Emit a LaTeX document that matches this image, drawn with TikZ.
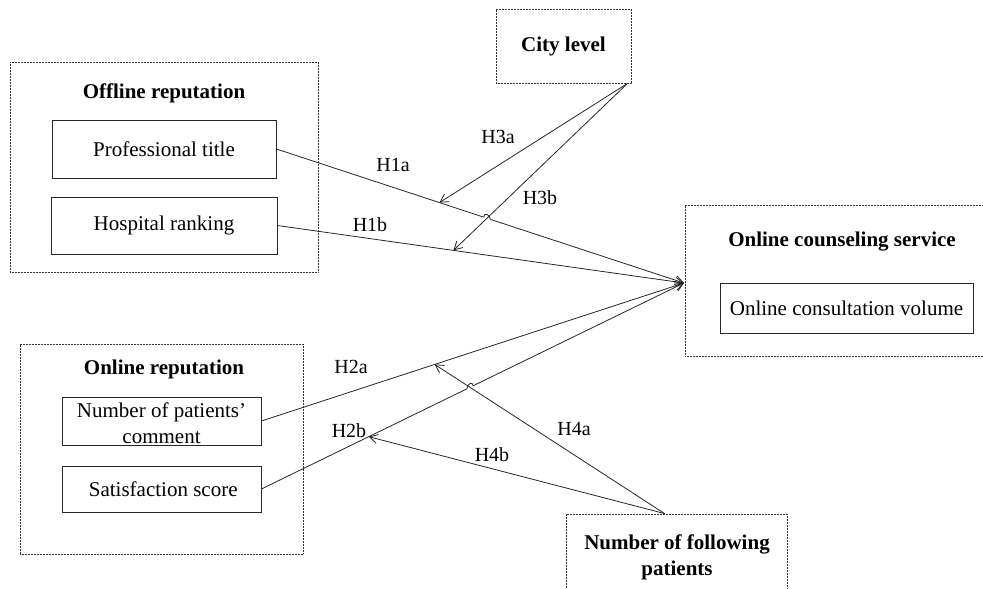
\documentclass[tikz,border=0pt]{standalone}
\usepackage{fontspec}
\setmainfont{Liberation Serif}
\usetikzlibrary{arrows.meta,calc,intersections}
\begin{document}
\begin{tikzpicture}[x=1pt,y=-1pt,
  dotbox/.style={draw=black!80, line width=0.9pt, dash pattern=on 0.9pt off 0.6pt, inner sep=0pt},
  solidbox/.style={draw=black!85, line width=0.8pt, inner sep=0pt},
  txt/.style={font=\fontsize{21}{26}\selectfont, align=center, inner sep=0pt},
  btxt/.style={font=\fontsize{21}{26}\selectfont\bfseries, align=center, inner sep=0pt},
  lab/.style={font=\fontsize{20}{24}\selectfont, inner sep=0pt},
  conn/.style={draw=black!85, line width=0.8pt},
  arr/.style={conn, -{Straight Barb[length=8pt,width=9pt,line width=0.8pt]}}
]
\useasboundingbox (0,0) rectangle (983,589);

% Offline reputation group
\node[dotbox, minimum width=308pt, minimum height=210pt] (off) at (164,167) {};
\node[btxt] (offt) at (164,93) {Offline reputation};
\node[solidbox, minimum width=224pt, minimum height=58pt, txt] (pt) at (164,149) {Professional title};
\node[solidbox, minimum width=226pt, minimum height=57pt, txt] (ht) at (164,225.5) {Hospital ranking};

% City level
\node[dotbox, minimum width=135pt, minimum height=74pt, btxt] (cl) at (563.5,46) {City level};

% Online counseling service
\node[dotbox, minimum width=305pt, minimum height=151pt] (ocs) at (837.5,280.5) {};
\node[btxt] (ocst) at (842,242) {Online counseling service};
\node[solidbox, minimum width=253pt, minimum height=50pt, txt] (ocv) at (846.5,308) {Online consultation volume};

% Online reputation group
\node[dotbox, minimum width=283pt, minimum height=210pt] (onr) at (161.5,449) {};
\node[btxt] (onrt) at (164,369) {Online reputation};
\node[solidbox, minimum width=199pt, minimum height=48pt] (npc) at (161.5,421) {};
\node[txt] (npct) at (161.5,423) {Number of patients’\\comment};
\node[solidbox, minimum width=199pt, minimum height=46pt, txt] (ss) at (161.5,489) {\,Satisfaction score};

% Number of following patients
\node[dotbox, minimum width=221pt, minimum height=92pt] (nfp) at (676.5,560) {};
\node[btxt] (nfpt) at (677,557) {Number of following\\patients};

% key points
\coordinate (hub) at (684,283);
\coordinate (clo) at ($(cl.south east)+(-4,0)$);
\coordinate (nfo) at ($(nfp.north west)+(99,0)$);
\coordinate (t1a) at ($(pt.east)!0.40!(hub)$);
\coordinate (t1b) at ($(ht.east)!0.433!(hub)$);
\coordinate (t2a) at ($(npc.east)!0.41!(hub)$);
\coordinate (t2b) at ($(ss.east)!0.254!(hub)$);

% main paths
\draw[arr, name path=h1a] (pt.east) -- (hub);
\draw[arr] (ht.east) -- (hub);
\draw[arr] (npc.east) -- (hub);
\draw[arr, name path=h2b] (ss.east) -- (hub);

% hops
\path[name path=h3b] (clo) -- (t1b);
\path[name path=h4a] (nfo) -- (t2a);
\path[name intersections={of=h1a and h3b, by=xa}];
\path[name intersections={of=h2b and h4a, by=xb}];
\draw[white, line width=2.4pt] ($(xa)!3.5pt!(pt.east)$) -- ($(xa)!3.5pt!(hub)$);
\draw[conn] ($(xa)!3.5pt!(pt.east)$) .. controls +(0,-5) and +(0,-5) .. ($(xa)!3.5pt!(hub)$);
\draw[white, line width=2.4pt] ($(xb)!3.5pt!(ss.east)$) -- ($(xb)!3.5pt!(hub)$);
\draw[conn] ($(xb)!3.5pt!(ss.east)$) .. controls +(0,-5) and +(0,-5) .. ($(xb)!3.5pt!(hub)$);

% moderating arrows
\draw[arr] (clo) -- (t1a);
\draw[arr] (clo) -- (t1b);
\draw[arr] (nfo) -- (t2a);
\draw[arr] (nfo) -- (t2b);

% labels
\node[lab] (l1a) at (393,165) {H1a};
\node[lab] (l1b) at (370,225) {H1b};
\node[lab] (l3a) at (498,137) {H3a};
\node[lab] (l3b) at (540,198) {H3b};
\node[lab] (l2a) at (351,367) {H2a};
\node[lab] (l2b) at (349,431) {H2b};
\node[lab] (l4a) at (574,429) {H4a};
\node[lab] (l4b) at (492,455) {H4b};
\end{tikzpicture}
\end{document}
